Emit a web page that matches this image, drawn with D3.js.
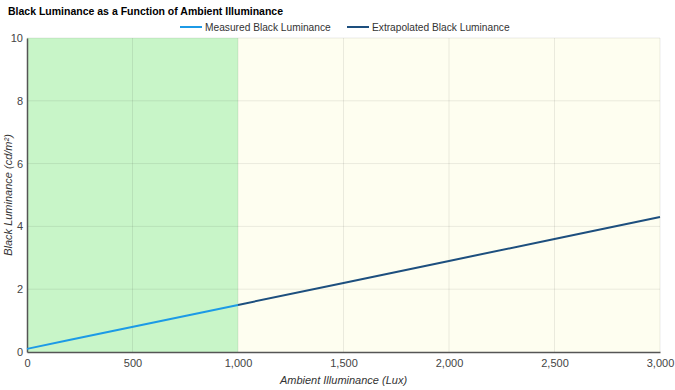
<!DOCTYPE html>
<html><head><meta charset="utf-8">
<script src="https://cdn.jsdelivr.net/npm/d3@7"></script>
<style>
body{margin:0;background:#fff;font-family:"Liberation Sans",Arial,sans-serif;}
text{font-family:"Liberation Sans",Arial,sans-serif;}
</style></head><body>
<svg id="c" width="675" height="390"></svg>
<script>
const measuredX = [0, 200, 400, 600, 800, 1000];
const measuredY = [0.1, 0.38, 0.66, 0.94, 1.22, 1.5];
const extrapX = [1000, 1500, 2000, 2500, 3000];
const extrapY = [1.5, 2.2, 2.9, 3.6, 4.3];
const xTicks = [0, 500, 1000, 1500, 2000, 2500, 3000];
const yTicks = [0, 2, 4, 6, 8, 10];
const measuredRange = [0, 1000];
const extrapRange = [1000, 3000];

const svg = d3.select("#c");
const m = {l:27, r:15, t:38, b:38};
const W = 675, H = 390;
const x = d3.scaleLinear().domain([0,3000]).range([m.l, W-m.r]);
const y = d3.scaleLinear().domain([0,10]).range([H-m.b, m.t]);

svg.append("rect").attr("x", x(measuredRange[0])).attr("y", y(10)).attr("width", x(measuredRange[1])-x(measuredRange[0])).attr("height", y(0)-y(10)).attr("fill","#c8f5c8");
svg.append("rect").attr("x", x(extrapRange[0])).attr("y", y(10)).attr("width", x(extrapRange[1])-x(extrapRange[0])).attr("height", y(0)-y(10)).attr("fill","#fefef0");

// grid
svg.append("g").selectAll("line").data(xTicks.slice(1)).join("line")
  .attr("x1",d=>x(d)).attr("x2",d=>x(d)).attr("y1",y(0)).attr("y2",y(10))
  .attr("stroke","#000").attr("stroke-opacity",0.08);
svg.append("g").selectAll("line").data(yTicks.slice(1)).join("line")
  .attr("x1",x(0)).attr("x2",x(3000)).attr("y1",d=>y(d)).attr("y2",d=>y(d))
  .attr("stroke","#000").attr("stroke-opacity",0.08);

// axes
const xa = svg.append("g").attr("transform",`translate(0,${y(0)})`)
  .call(d3.axisBottom(x).tickValues(xTicks).tickFormat(d3.format(",")).tickSize(0).tickPadding(7));
xa.select(".domain").attr("stroke","#555").attr("stroke-width",1.5);
xa.selectAll("text").attr("fill","#444").attr("font-size",11);
const ya = svg.append("g").attr("transform",`translate(${x(0)},0)`)
  .call(d3.axisLeft(y).tickValues(yTicks).tickSize(0).tickPadding(4));
ya.select(".domain").attr("stroke","#555").attr("stroke-width",1.5);
ya.selectAll("text").attr("fill","#444").attr("font-size",11);

const line = d3.line().x(d=>x(d[0])).y(d=>y(d[1]));
svg.append("path").datum(measuredX.map((v,i)=>[v,measuredY[i]])).attr("d",line)
  .attr("fill","none").attr("stroke","#1c9ae6").attr("stroke-width",2);
svg.append("path").datum(extrapX.map((v,i)=>[v,extrapY[i]])).attr("d",line)
  .attr("fill","none").attr("stroke","#1d4f7e").attr("stroke-width",2);

// title
svg.append("text").attr("x",8).attr("y",15).attr("font-size",10.5).attr("font-weight","bold").attr("fill","#000")
  .text("Black Luminance as a Function of Ambient Illuminance");

// legend
const leg = [{t:"Measured Black Luminance",c:"#1c9ae6",x:180},{t:"Extrapolated Black Luminance",c:"#1d4f7e",x:347}];
leg.forEach(l=>{
  svg.append("line").attr("x1",l.x).attr("x2",l.x+22).attr("y1",27).attr("y2",27).attr("stroke",l.c).attr("stroke-width",2);
  svg.append("text").attr("x",l.x+25).attr("y",31).attr("font-size",10.2).attr("fill","#333").text(l.t);
});

// axis titles
svg.append("text").attr("x",(x(0)+x(3000))/2).attr("y",384).attr("text-anchor","middle")
  .attr("font-size",11).attr("font-style","italic").attr("fill","#333").text("Ambient Illuminance (Lux)");
svg.append("text").attr("transform",`translate(12,${(y(0)+y(10))/2}) rotate(-90)`).attr("text-anchor","middle")
  .attr("font-size",11).attr("font-style","italic").attr("fill","#333").text("Black Luminance (cd/m²)");
</script></body></html>
